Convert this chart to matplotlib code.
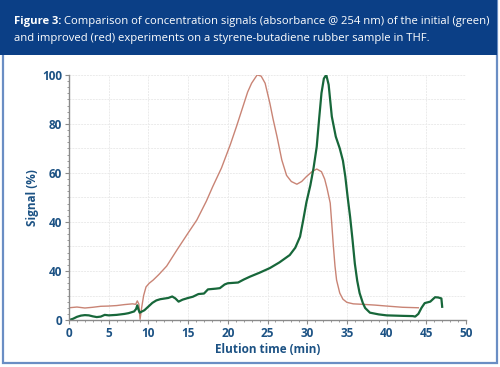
# 図3 スチレンブタジエンゴム試料の濃度シグナル比較

# ライブラリ
import matplotlib.pyplot as plt
from matplotlib.patches import Rectangle
from matplotlib.ticker import MultipleLocator

# データ定義
red_x = [0, 1, 2, 3, 4, 5, 6, 7, 8, 8.4, 8.6, 8.8, 8.95, 9.15, 9.4, 9.7, 10.1,
         10.6, 11.3, 12.3, 13.6, 15, 16.1, 17.3, 18.1, 19.2, 20.3, 21.1, 21.9,
         22.5, 23, 23.7, 24.2, 24.7, 25.3, 25.7, 26.2, 26.8, 27.4, 28, 28.7,
         29.3, 29.9, 30.6, 31.2, 31.8, 32.2, 32.5, 32.9, 33.1, 33.3, 33.5, 33.7,
         34.1, 34.5, 35, 35.8, 37, 38.5, 40, 42, 44]
red_y = [5.0, 5.3, 4.9, 5.2, 5.6, 5.7, 5.9, 6.3, 6.6, 6.4, 7.8, 6.5, 0.3, 5,
         10, 13.5, 15, 16.3, 18.5, 22, 28.6, 35.5, 40.8, 48.5, 54.4, 62, 71.4,
         79, 87, 93, 96.6, 100, 99.5, 96.6, 88.4, 82, 74.8, 65.3, 59, 56.5,
         55.4, 56.5, 58.5, 60.5, 61.6, 60.5, 57.5, 53.7, 47.7, 39, 30, 22, 16.3,
         11, 8.5, 7.2, 6.6, 6.4, 6.1, 5.7, 5.2, 5.0]

green_x = [0, 0.5, 1, 1.5, 2, 2.5, 3, 3.5, 4, 4.5, 5, 5.5, 6, 7, 7.5, 8.2,
           8.45, 8.6, 8.75, 8.9, 9.5, 10, 10.5, 11, 11.5, 12.5, 13, 13.4, 13.8,
           14.3, 15, 15.6, 16.3, 17, 17.5, 18.5, 19, 19.6, 20, 21.3, 22, 22.8,
           24, 25.3, 26.5, 27.8, 28.5, 29.1, 29.5, 29.9, 30.4, 30.8, 31.2, 31.5,
           31.8, 32.1, 32.4, 32.7, 33.1, 33.6, 34.1, 34.5, 34.8, 35.1, 35.4,
           35.7, 36, 36.3, 36.6, 37, 37.3, 37.9, 39, 40, 42, 43.3, 43.6, 44,
           44.4, 44.8, 45.5, 46.1, 46.5, 46.9, 47]
green_y = [0, 0.5, 1.3, 1.8, 2.0, 1.9, 1.5, 1.2, 1.4, 2.1, 1.9, 2.0, 2.1, 2.5,
           2.8, 3.5, 4.5, 6.0, 4.3, 3.0, 4.0, 5.5, 7.0, 8.0, 8.5, 9.0, 9.6,
           8.8, 7.5, 8.3, 9.0, 9.5, 10.6, 10.8, 12.5, 12.8, 13, 14.5, 15, 15.3,
           16.5, 17.7, 19.3, 21.2, 23.5, 26.5, 29.5, 34, 40.8, 48, 55, 62, 70.7,
           82, 92.6, 98.5, 100, 96, 83, 74.8, 70, 65, 58.5, 50, 42.2, 33, 23,
           16, 11, 7, 4.9, 3, 2.3, 1.9, 1.7, 1.6, 1.4, 2.5, 5, 6.9, 7.5, 9.3,
           9.2, 8.8, 5.4]

y_ticks = [0, 20, 40, 60, 80, 100]
y_labels = ['0', '40', '40', '60', '80', '100']
x_ticks = [0, 5, 10, 15, 20, 25, 30, 35, 40, 45, 50]

# 色
header_blue = '#0b3f86'
frame_blue = '#6a8ec4'
label_blue = '#1c5284'
red = '#c98475'
green = '#17673a'
grid_grey = '#ebebeb'

plt.rcParams['font.family'] = ['Open Sans', 'DejaVu Sans']

# プロット作成
fig = plt.figure(figsize=(5, 3.67), dpi=100)

# 枠とヘッダー
fig.patches.append(Rectangle((0.006, 0.01), 0.988, 0.99, transform=fig.transFigure,
                             fill=False, edgecolor=frame_blue, linewidth=1.6))
fig.patches.append(Rectangle((0, 0.85), 0.994, 0.15, transform=fig.transFigure,
                             facecolor=header_blue, edgecolor='none'))

t1 = fig.text(0.028, 0.935, 'Figure 3:', color='white', fontsize=8.1,
              fontweight='bold', va='baseline')
fig.canvas.draw()
r = fig.canvas.get_renderer()
w = t1.get_window_extent(r).width / fig.bbox.width
fig.text(0.028 + w + 0.006, 0.935,
         'Comparison of concentration signals (absorbance @ 254 nm) of the initial (green)',
         color='white', fontsize=8.1, va='baseline')
fig.text(0.028, 0.888,
         'and improved (red) experiments on a styrene-butadiene rubber sample in THF.',
         color='white', fontsize=8.1, va='baseline')

ax = fig.add_axes([0.138, 0.128, 0.794, 0.668])
ax.plot(red_x, red_y, color=red, linewidth=1.0)
ax.plot(green_x, green_y, color=green, linewidth=1.6)

ax.set_xlim(0, 50)
ax.set_ylim(0, 100)
ax.set_xticks(x_ticks)
ax.set_yticks(y_ticks)
ax.set_yticklabels(y_labels)
ax.xaxis.set_minor_locator(MultipleLocator(1))
ax.yaxis.set_minor_locator(MultipleLocator(2.5))

# グリッド (10刻み)
ax.grid(which='major', color=grid_grey, linestyle=(0, (2, 1)), linewidth=0.7)
for yy in range(10, 100, 20):
    ax.axhline(yy, color=grid_grey, linestyle=(0, (2, 1)), linewidth=0.7, zorder=0)
ax.set_axisbelow(True)

for s in ['top', 'right']:
    ax.spines[s].set_visible(False)
for s in ['left', 'bottom']:
    ax.spines[s].set_color('#8a8a8a')
    ax.spines[s].set_linewidth(1.0)

ax.tick_params(which='major', length=3, color='#8a8a8a', labelcolor=label_blue,
               labelsize=8.5, pad=2)
ax.tick_params(which='minor', length=1.5, color='#8a8a8a')
for lab in ax.get_xticklabels() + ax.get_yticklabels():
    lab.set_fontweight('bold')

ax.set_xlabel('Elution time (min)', color=label_blue, fontsize=8.5,
              fontweight='bold', labelpad=2)
ax.set_ylabel('Signal (%)', color=label_blue, fontsize=8.5,
              fontweight='bold', labelpad=2)

fig.savefig('out.png', dpi=100)
